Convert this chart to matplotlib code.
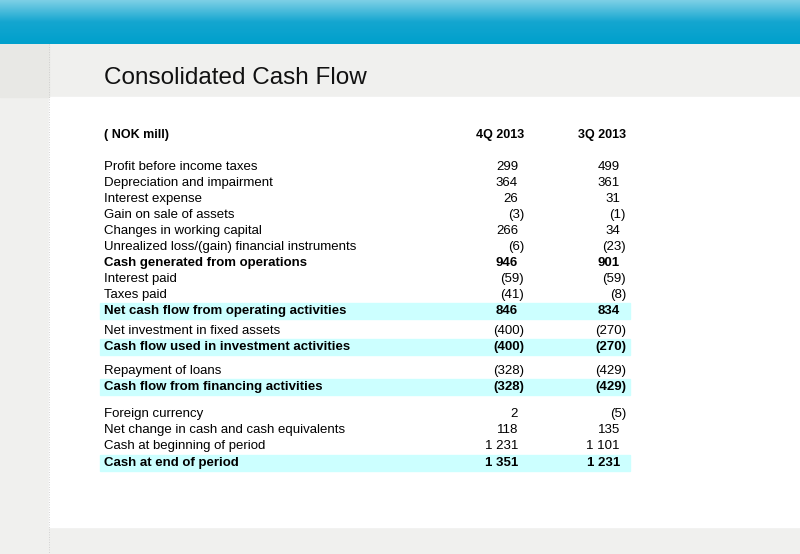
import numpy as np
import matplotlib
matplotlib.use("Agg")
import matplotlib.pyplot as plt
from matplotlib.patches import Rectangle

title = "Consolidated Cash Flow"
unit_label = "( NOK mill)"
periods = ["4Q 2013", "3Q 2013"]

labels = [
    "Profit before income taxes", "Depreciation and impairment", "Interest expense",
    "Gain on sale of assets", "Changes in working capital",
    "Unrealized loss/(gain) financial instruments", "Cash generated from operations",
    "Interest paid", "Taxes paid", "Net cash flow from operating activities",
    "Net investment in fixed assets", "Cash flow used in investment activities",
    "Repayment of loans", "Cash flow from financing activities",
    "Foreign currency", "Net change in cash and cash equivalents",
    "Cash at beginning of period", "Cash at end of period",
]
q4_2013 = ["299", "364", "26", "(3)", "266", "(6)", "946", "(59)", "(41)", "846",
           "(400)", "(400)", "(328)", "(328)", "2", "118", "1 231", "1 351"]
q3_2013 = ["499", "361", "31", "(1)", "34", "(23)", "901", "(59)", "(8)", "834",
           "(270)", "(270)", "(429)", "(429)", "(5)", "135", "1 101", "1 231"]
bold_rows = [6, 9, 11, 13, 17]
shaded_rows = [9, 11, 13, 17]
row_y = [167, 183, 199, 215, 231, 247, 263, 279, 295, 311,
         331, 347, 371, 387, 414, 430, 446, 463]

fig = plt.figure(figsize=(8, 5.54), dpi=100)
ax = fig.add_axes([0, 0, 1, 1])
ax.set_xlim(0, 800)
ax.set_ylim(554, 0)
ax.axis("off")

# background
ax.add_patch(Rectangle((0, 0), 800, 554, color="#f0f0ee", zorder=0))
ax.add_patch(Rectangle((49, 97), 751, 430, color="white", zorder=0))
ax.add_patch(Rectangle((0, 44), 49, 53, color="#e8e8e5", zorder=0))
grad = np.linspace(0, 1, 50).reshape(-1, 1)
cmap = matplotlib.colors.LinearSegmentedColormap.from_list("b", ["#7ccfe6", "#14a6d0", "#00a0cc"])
ax.imshow(grad, extent=(0, 800, 44, 0), aspect="auto", cmap=cmap, zorder=1)
ax.plot([49, 49], [44, 554], color="#c8c8c8", lw=0.6, ls=(0, (1, 2)), zorder=2)

font = "Liberation Sans"
ax.text(104, 78, title, fontsize=17.5, family=font, va="center", ha="left", color="#111111")

ax.text(104, 135, unit_label, fontsize=9, family=font, weight="bold", va="center")
ax.text(524, 135, periods[0], fontsize=9, family=font, weight="bold", va="center", ha="right")
ax.text(626, 135, periods[1], fontsize=9, family=font, weight="bold", va="center", ha="right")

for i, (lab, a, b) in enumerate(zip(labels, q4_2013, q3_2013)):
    y = row_y[i]
    w = "bold" if i in bold_rows else "normal"
    if i in shaded_rows:
        ax.add_patch(Rectangle((100, y - 8), 530, 16, color="#ccffff", zorder=1))
    ax.text(104, y, lab, fontsize=9.5, family=font, weight=w, va="center", zorder=3)
    for val, xr in ((a, 518), (b, 620)):
        x = xr + 6 if val.endswith(")") else xr
        ax.text(x, y, val, fontsize=9.5, family=font, weight=w, va="center", ha="right", zorder=3)

fig.savefig("out.png", dpi=100)
